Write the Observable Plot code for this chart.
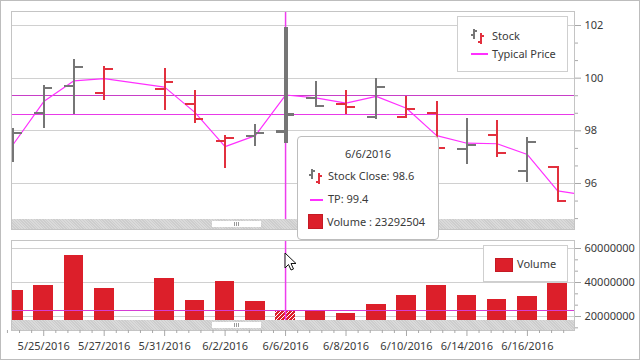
<!DOCTYPE html>
<html><head><meta charset="utf-8">
<script src="https://cdn.jsdelivr.net/npm/d3@7"></script>
<script src="https://cdn.jsdelivr.net/npm/@observablehq/plot@0.6"></script>
<style>
html,body{margin:0;padding:0;background:#fff;}
#chart{position:relative;width:640px;height:360px;overflow:hidden;font-family:"Noto Sans",sans-serif;font-size:11px;color:#3a3a3a;background:#fff;}
#chart svg.pane{position:absolute;left:0;}
.abs{position:absolute;}
.scroll{position:absolute;left:12px;width:562px;height:10px;background:#d4d4d4;background-image:repeating-linear-gradient(45deg,#cdcdcd 0 1px,#dadada 1px 2px);}
.thumb{position:absolute;left:200px;width:49px;height:6px;top:2px;background:#fff;}
.grip{position:absolute;left:22px;top:1px;width:5px;height:4px;background:repeating-linear-gradient(90deg,#9a9a9a 0 1px,transparent 1px 2px);}
.box{position:absolute;background:#fff;border:1px solid #cfcfcf;box-sizing:border-box;}
.txt{position:absolute;white-space:nowrap;line-height:14px;}
</style></head>
<body>
<div id="chart"></div>
<script>
// ---- data ----
const dates = ["5/24/2016","5/25/2016","5/26/2016","5/27/2016","5/30/2016","5/31/2016","6/1/2016","6/2/2016","6/3/2016","6/6/2016","6/7/2016","6/8/2016","6/9/2016","6/10/2016","6/13/2016","6/14/2016","6/15/2016","6/16/2016","6/17/2016","6/20/2016"];
const open  = [97.2, 98.66, 99.70, 99.43, null, 99.58, 99.01, 97.61, 97.82, 97.99, 99.24, 99.03, 98.52, 98.52, 98.67, 97.30, 97.83, 96.47, 96.64, 95.4];
const high  = [98.08, 99.71, 100.70, 100.44, null, 100.37, 99.53, 97.82, 98.24, 101.91, 99.87, 99.53, 99.98, 99.30, 99.13, 98.46, 98.39, 97.75, 96.64, 96.0];
const low   = [96.81, 98.08, 98.62, 99.15, null, 98.78, 98.29, 96.58, 97.42, 97.51, 98.95, 98.62, 98.42, 98.46, 96.97, 96.71, 97.00, 96.05, 95.29, 95.2];
const close = [97.91, 99.61, 100.42, 100.33, null, 99.85, 98.44, 97.73, 97.91, 98.62, 98.95, 98.92, 99.66, 98.82, 97.36, 97.45, 97.15, 97.57, 95.32, 95.42];
const typicalPrice = [97.5, 99.11, 99.90, 99.98, null, 99.66, 98.7, 97.40, 97.82, 99.36, 99.25, 99.05, 99.31, 98.86, 97.82, 97.53, 97.51, 97.10, 95.72, 95.54];
const volume = [35300000, 38200000, 55900000, 36500000, null, 42400000, 29400000, 40600000, 28800000, 23292504, 22900000, 21800000, 27100000, 32400000, 38200000, 32400000, 30000000, 31800000, 39600000, null];
const xTickIdx = [1,3,5,7,9,11,13,15,17];
const priceTicks = [96, 98, 100, 102];
const priceMinor = [94.667, 95.333, 96.667, 97.333, 98.667, 99.333, 100.667, 101.333];
const volTicks = [20000000, 40000000, 60000000];
const volMinor = [13333333, 26666667, 33333333, 46666667, 53333333];
const hoverIdx = 9; // 6/6/2016

// ---- styles ----
const upColor = "#767676", downColor = "#e2303e", barColor = "#dc1f2a";
const tpColor = "#ff30ff", crossColor = "#ee3cee";
const gridColor = "#d0d0d0", tickColor = "#a8a8a8", textColor = "#3a3a3a";
const xDomain = [-0.066, 18.558];
const crisp = {shapeRendering: "crispEdges"};

const rows = dates.map((d, i) => ({i, date: d, open: open[i], high: high[i], low: low[i], close: close[i], tp: typicalPrice[i], vol: volume[i]}));
const ohlc = rows.filter(r => r.high != null);
let prevClose = null;
ohlc.forEach(r => { r.up = prevClose == null ? true : r.close >= prevClose; prevClose = r.close; });
const tpRows = rows.filter(r => r.tp != null);
const volRows = rows.filter(r => r.vol != null);
const sel = rows[hoverIdx];
const xMinor = d3.range(-0.2, 18.6, 0.4).filter(v => Math.abs(v - Math.round(v)) > 0.01 || Math.round(v) % 2 === 0);

const chart = document.getElementById("chart");

// hatch pattern
chart.insertAdjacentHTML("beforeend", `<svg width="0" height="0" style="position:absolute"><defs>
<pattern id="hatch" patternUnits="userSpaceOnUse" width="4" height="4">
<rect width="4" height="4" fill="${barColor}"/>
<path d="M-1,1 l2,-2 M0,4 l4,-4 M3,5 l2,-2" stroke="#fff" stroke-width="1"/></pattern></defs></svg>`);

// ---- top pane ----
const topPane = Plot.plot({
  width: 640, height: 232,
  marginTop: 11, marginBottom: 3, marginLeft: 11, marginRight: 66,
  x: {domain: xDomain, axis: null},
  y: {domain: [94.253, 102.532], label: null},
  style: {fontFamily: "Noto Sans, sans-serif", fontSize: "11px", color: textColor, background: "transparent"},
  marks: [
    Plot.gridY(priceTicks, {stroke: gridColor, strokeOpacity: 1, ...crisp}),
    Plot.ruleY([sel], {y: "tp", stroke: "#c83ec8", ...crisp}),
    Plot.ruleY([sel], {y: "close", stroke: "#e83ae8", ...crisp}),
    Plot.line(tpRows, {x: "i", y: "tp", stroke: tpColor, strokeWidth: 1.2, clip: true}),
    Plot.ruleX([sel], {x: "i", stroke: crossColor, strokeWidth: 1.5}),
    Plot.ruleX(ohlc, {x: "i", y1: "low", y2: "high", stroke: d => d.up ? upColor : downColor, strokeWidth: d => d.i === hoverIdx ? 4 : 2, clip: true, ...crisp}),
    Plot.ruleY(ohlc, {y: "open", x1: d => d.i - 0.3, x2: "i", stroke: d => d.up ? upColor : downColor, strokeWidth: d => d.i === hoverIdx ? 3 : 2, clip: true, ...crisp}),
    Plot.ruleY(ohlc, {y: "close", x1: "i", x2: d => d.i + 0.3, stroke: d => d.up ? upColor : downColor, strokeWidth: d => d.i === hoverIdx ? 3 : 2, clip: true, ...crisp}),
    Plot.frame({stroke: "#c4c4c4", ...crisp}),
    Plot.axisY(priceTicks, {anchor: "right", tickSize: 6, tickPadding: 4, stroke: tickColor, fill: textColor, label: null, tickFormat: d => String(d)}),
    Plot.axisY(priceMinor, {anchor: "right", tickSize: 3, stroke: tickColor, label: null, tickFormat: () => ""})
  ]
});
topPane.classList.add("pane");
topPane.style.top = "0px";
chart.appendChild(topPane);

// ---- bottom pane ----
const bottomPane = Plot.plot({
  width: 640, height: 128,
  marginTop: 8, marginBottom: 30, marginLeft: 11, marginRight: 66,
  x: {domain: xDomain, label: null},
  y: {domain: [11765000, 64706000], label: null},
  style: {fontFamily: "Noto Sans, sans-serif", fontSize: "11px", color: textColor, background: "transparent"},
  marks: [
    Plot.gridY(volTicks, {stroke: gridColor, strokeOpacity: 1, ...crisp}),
    Plot.rectY(volRows, {x1: d => d.i - 0.325, x2: d => d.i + 0.325, y1: () => 0, y2: "vol", fill: d => d.i === hoverIdx ? "url(#hatch)" : barColor, clip: true, ...crisp}),
    Plot.ruleY([sel], {y: "vol", stroke: "#d43cd4", ...crisp}),
    Plot.ruleX([sel], {x: "i", stroke: crossColor, strokeWidth: 1.5}),
    Plot.frame({stroke: "#c4c4c4", ...crisp}),
    Plot.axisY(volTicks, {anchor: "right", tickSize: 6, tickPadding: 4, stroke: tickColor, fill: textColor, label: null, tickFormat: d3.format("d")}),
    Plot.axisY(volMinor, {anchor: "right", tickSize: 3, stroke: tickColor, label: null, tickFormat: () => ""}),
    Plot.axisX(xTickIdx, {anchor: "bottom", tickSize: 6, tickPadding: 6, stroke: tickColor, fill: textColor, label: null, tickFormat: i => dates[i]}),
    Plot.axisX(xMinor, {anchor: "bottom", tickSize: 3, stroke: tickColor, label: null, tickFormat: () => ""})
  ]
});
bottomPane.classList.add("pane");
bottomPane.style.top = "232px";
chart.appendChild(bottomPane);

// ---- chrome: scrollbars ----
function scrollbar(y) {
  chart.insertAdjacentHTML("beforeend", `<div class="scroll" style="top:${y}px"><div class="thumb"><div class="grip"></div></div></div>`);
}
scrollbar(219);
scrollbar(320);

// icons
const ohlcIcon = `<svg width="16" height="17" style="position:absolute;left:0;top:0">
<line x1="3" y1="1" x2="3" y2="11" stroke="${upColor}" stroke-width="2"/>
<line x1="0" y1="7" x2="3" y2="7" stroke="${upColor}" stroke-width="2"/>
<line x1="3" y1="3" x2="6" y2="3" stroke="${upColor}" stroke-width="2"/>
<line x1="10" y1="5" x2="10" y2="16" stroke="${downColor}" stroke-width="2"/>
<line x1="10" y1="8" x2="13" y2="8" stroke="${downColor}" stroke-width="2"/>
<line x1="7" y1="14" x2="10" y2="14" stroke="${downColor}" stroke-width="2"/>
</svg>`;

// ---- top legend ----
chart.insertAdjacentHTML("beforeend", `<div class="box" style="left:457px;top:16px;width:111px;height:56px;">
<div class="abs" style="left:13px;top:11px;width:16px;height:17px">${ohlcIcon}</div>
<div class="txt" style="left:34px;top:12px">Stock</div>
<div class="abs" style="left:13px;top:36px;width:17px;height:2px;background:${tpColor}"></div>
<div class="txt" style="left:34px;top:30px">Typical Price</div>
</div>`);

// ---- bottom legend ----
chart.insertAdjacentHTML("beforeend", `<div class="box" style="left:483px;top:245px;width:85px;height:37px;">
<div class="abs" style="left:11px;top:12px;width:18px;height:14px;background:${barColor};box-shadow:inset 0 0 0 1px #c41a24"></div>
<div class="txt" style="left:33px;top:11px">Volume</div>
</div>`);

// ---- tooltip ----
chart.insertAdjacentHTML("beforeend", `<div class="box" style="left:297px;top:136px;width:142px;height:104px;border-color:#bdbdbd;border-radius:4px;">
<div class="txt" style="left:0;width:140px;text-align:center;top:10px">${sel.date}</div>
<div class="abs" style="left:11px;top:31px;width:16px;height:17px">${ohlcIcon}</div>
<div class="txt" style="left:30px;top:32px">Stock Close: ${sel.close.toFixed(1)}</div>
<div class="abs" style="left:12px;top:62px;width:13px;height:2px;background:${tpColor}"></div>
<div class="txt" style="left:30px;top:55px">TP: ${sel.tp.toFixed(1)}</div>
<div class="abs" style="left:10px;top:77px;width:15px;height:15px;background:${barColor};box-shadow:inset 0 0 0 1px #c41a24"></div>
<div class="txt" style="left:29px;top:78px">Volume : ${sel.vol}</div>
</div>`);

// ---- mouse cursor ----
chart.insertAdjacentHTML("beforeend", `<svg class="abs" style="left:284px;top:252px" width="14" height="20">
<path d="M1,1 L1,16 L4.5,12.5 L7,18 L9.5,17 L7,11.5 L12,11.5 Z" fill="#fff" stroke="#111" stroke-width="1"/></svg>`);

// ---- outer border ----
chart.insertAdjacentHTML("beforeend", `<div class="abs" style="left:0;top:0;width:640px;height:360px;box-sizing:border-box;border:1px solid #bdbdbd;pointer-events:none"></div>`);
</script>
</body></html>
